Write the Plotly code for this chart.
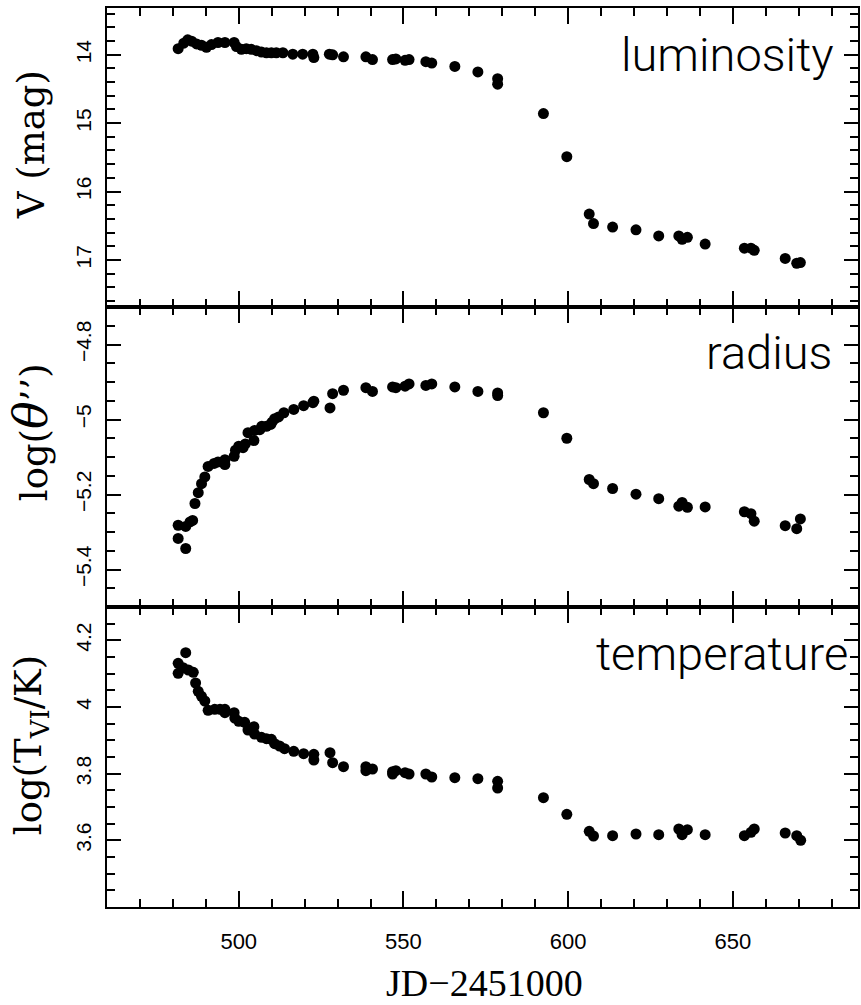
import plotly.graph_objects as go
from plotly.subplots import make_subplots

# Light curve: V magnitude vs. JD-2451000
jd_v = [481.6, 483.3, 484.5, 485.7, 487.2, 488.7, 490.2, 491.7, 493.7, 495.8,
        498.6, 499.3, 500.8, 502.3, 503.8, 505.4, 506.9, 508.4, 509.9, 511.4,
        513.4, 516.4, 519.4, 522.5, 522.8, 527.5, 528.5, 531.8, 538.6, 540.6,
        546.7, 547.7, 550.5, 551.7, 556.8, 558.6, 565.6, 572.6, 578.6, 578.6,
        592.5, 599.6, 606.4, 607.7, 613.5, 620.6, 627.5, 633.6, 634.6, 636.2,
        641.6, 653.5, 655.5, 656.5, 665.9, 669.4, 670.5]
v_mag = [13.91, 13.83, 13.78, 13.80, 13.84, 13.86, 13.89, 13.85, 13.82, 13.82,
         13.82, 13.88, 13.92, 13.91, 13.92, 13.94, 13.96, 13.97, 13.97, 13.97,
         13.97, 13.99, 13.99, 13.99, 14.04, 13.99, 14.00, 14.03, 14.03, 14.07,
         14.07, 14.06, 14.08, 14.07, 14.10, 14.12, 14.17, 14.25, 14.35, 14.43,
         14.86, 15.49, 16.33, 16.47, 16.52, 16.56, 16.65, 16.65, 16.70, 16.67,
         16.77, 16.83, 16.83, 16.86, 16.98, 17.05, 17.04]

# Angular radius: log(theta'') vs. JD-2451000
jd_r = [481.6, 483.9, 481.6, 483.9, 485.2, 486.0, 486.7, 487.7, 488.7, 489.7,
        490.7, 492.5, 493.7, 495.8, 495.8, 498.6, 499.0, 500.0, 501.3, 502.0,
        502.8, 504.6, 504.8, 506.4, 507.0, 508.4, 509.7, 510.1, 510.9, 512.1,
        513.7, 516.7, 519.7, 522.5, 522.8, 527.7, 528.5, 531.8, 538.6, 540.6,
        546.7, 547.7, 550.5, 551.7, 556.8, 558.6, 565.6, 572.6, 578.6, 578.6,
        592.5, 599.6, 606.4, 607.7, 613.5, 620.6, 627.5, 633.6, 634.6, 636.2,
        641.6, 653.5, 655.5, 656.5, 665.9, 669.4, 670.5]
log_theta = [-5.317, -5.344, -5.282, -5.285, -5.273, -5.269, -5.224, -5.195, -5.171, -5.153,
             -5.125, -5.117, -5.113, -5.107, -5.120, -5.098, -5.082, -5.071, -5.075, -5.065,
             -5.035, -5.056, -5.029, -5.027, -5.018, -5.018, -5.013, -5.007, -4.998, -4.993,
             -4.982, -4.973, -4.963, -4.955, -4.951, -4.969, -4.931, -4.922, -4.915, -4.925,
             -4.913, -4.915, -4.911, -4.905, -4.909, -4.905, -4.913, -4.925, -4.929, -4.936,
             -4.982, -5.050, -5.160, -5.171, -5.184, -5.199, -5.211, -5.231, -5.221, -5.234,
             -5.233, -5.246, -5.251, -5.271, -5.283, -5.291, -5.265]

# Colour temperature: log(T_VI/K) vs. JD-2451000
jd_t = [483.9, 481.6, 481.6, 483.1, 484.7, 486.2, 486.9, 487.7, 488.7, 489.7,
        490.7, 492.7, 494.3, 495.8, 495.8, 498.6, 498.8, 500.0, 501.8, 502.8,
        504.6, 504.8, 506.9, 508.4, 509.9, 510.9, 512.4, 513.9, 516.7, 519.7,
        522.8, 522.8, 527.7, 528.5, 531.8, 538.6, 538.6, 540.6, 546.7, 547.7,
        546.7, 550.5, 551.7, 556.8, 558.6, 565.6, 572.6, 578.6, 578.6, 592.5,
        599.6, 606.4, 607.7, 613.5, 620.6, 627.5, 633.6, 634.6, 636.2, 641.6,
        653.5, 655.5, 656.5, 665.9, 669.4, 670.6]
log_t = [4.163, 4.131, 4.101, 4.118, 4.111, 4.104, 4.072, 4.047, 4.032, 4.018,
         3.990, 3.993, 3.993, 3.993, 3.983, 3.983, 3.967, 3.957, 3.954, 3.931,
         3.941, 3.919, 3.909, 3.905, 3.903, 3.890, 3.883, 3.875, 3.867, 3.860,
         3.858, 3.841, 3.863, 3.833, 3.821, 3.821, 3.809, 3.814, 3.806, 3.809,
         3.799, 3.803, 3.799, 3.799, 3.790, 3.788, 3.785, 3.777, 3.757, 3.728,
         3.678, 3.627, 3.613, 3.614, 3.619, 3.617, 3.634, 3.617, 3.632, 3.617,
         3.614, 3.624, 3.634, 3.622, 3.614, 3.600]

# Labelled ticks per panel
v_ticks = [14, 15, 16, 17]
theta_ticks = [-4.8, -5.0, -5.2, -5.4]
t_ticks = [4.2, 4.0, 3.8, 3.6]
x_ticks = [500, 550, 600, 650]

panel_names = ["luminosity", "radius", "temperature"]
y_titles = ["V (mag)",
            "log(<span style='font-size:46px'><i>θ</i></span>’’)",
            "log(T<sub>VI</sub>/K)"]
x_title = "JD−2451000"

W, H = 861, 1005
ML, MR, MT, MB = 107, 1, 8, 98
PW, PH = W - ML - MR, H - MT - MB


def px_x(px):
    return (px - ML) / PW


def px_y(py):
    return (H - MB - py) / PH


fig = make_subplots(rows=3, cols=1, shared_xaxes=True, vertical_spacing=0)

marker = dict(color="black", size=11, line=dict(width=0))
fig.add_trace(go.Scatter(x=jd_v, y=v_mag, mode="markers", marker=marker), row=1, col=1)
fig.add_trace(go.Scatter(x=jd_r, y=log_theta, mode="markers", marker=marker), row=2, col=1)
fig.add_trace(go.Scatter(x=jd_t, y=log_t, mode="markers", marker=marker), row=3, col=1)

b1, b2 = px_y(307), px_y(607)
domains = [[b1, 1.0], [b2, b1], [0.0, b2]]

tick_font = dict(family="Liberation Sans, Arial, sans-serif", size=21, color="black")
axis_common = dict(showline=True, linecolor="black", linewidth=2, mirror="ticks",
                   ticks="inside", tickcolor="black", tickwidth=1.5,
                   showgrid=False, zeroline=False)

for i in range(3):
    xa = "xaxis" if i == 0 else f"xaxis{i + 1}"
    fig.layout[xa].update(range=[460, 688], tickmode="array", tickvals=x_ticks,
                          ticktext=[str(v) for v in x_ticks], ticklen=16,
                          minor=dict(dtick=10, tick0=500, ticklen=8, ticks="inside",
                                     tickcolor="black", tickwidth=1.5),
                          showticklabels=(i == 2), ticklabelstandoff=14,
                          tickfont=dict(family="Liberation Sans, Arial, sans-serif",
                                        size=22, color="black"),
                          **axis_common)

yspecs = [
    dict(range=[17.69, 13.315], ticks=v_ticks, tick0=14, minor_dtick=0.2),
    dict(range=[-5.5, -4.7], ticks=theta_ticks, tick0=-5.0, minor_dtick=0.05),
    dict(range=[3.4, 4.3], ticks=t_ticks, tick0=4.0, minor_dtick=0.05),
]
for i, spec in enumerate(yspecs):
    ya = "yaxis" if i == 0 else f"yaxis{i + 1}"
    labels = ["{:g}".format(v).replace("-", "−") for v in spec["ticks"]]
    fig.layout[ya].update(range=spec["range"], tickmode="array", tickvals=spec["ticks"],
                          ticktext=labels, domain=domains[i], ticklen=14, tickangle=-90,
                          ticklabelstandoff=6, tickfont=tick_font,
                          minor=dict(dtick=spec["minor_dtick"], tick0=spec["tick0"],
                                     ticklen=8, ticks="inside", tickcolor="black",
                                     tickwidth=1.5),
                          **axis_common)

ytitle_font = dict(family="DejaVu Serif, serif", size=37, color="black")
title_y = [145, 432, 745]
for t, py in zip(y_titles, title_y):
    fig.add_annotation(text=t, xref="paper", yref="paper", x=px_x(31), y=px_y(py),
                       xanchor="center", yanchor="middle", textangle=-90,
                       showarrow=False, font=ytitle_font)

xtitle_font = dict(family="Liberation Serif, Times New Roman, serif", size=38, color="black")
fig.add_annotation(text=x_title, xref="paper", yref="paper", x=px_x(486), y=px_y(983),
                   xanchor="center", yanchor="middle", showarrow=False, font=xtitle_font)

label_font = dict(family="Roboto, Liberation Sans, sans-serif", size=47, color="black",
                  weight=300)
label_pos = [(838, 55), (836, 353), (852, 653)]
for name, (px, py) in zip(panel_names, label_pos):
    fig.add_annotation(text=name, xref="paper", yref="paper", x=px_x(px), y=px_y(py),
                       xanchor="right", yanchor="middle", showarrow=False, font=label_font)

fig.update_layout(width=W, height=H, margin=dict(l=ML, r=MR, t=MT, b=MB),
                  paper_bgcolor="white", plot_bgcolor="white", showlegend=False)

fig.write_html("out.html")
